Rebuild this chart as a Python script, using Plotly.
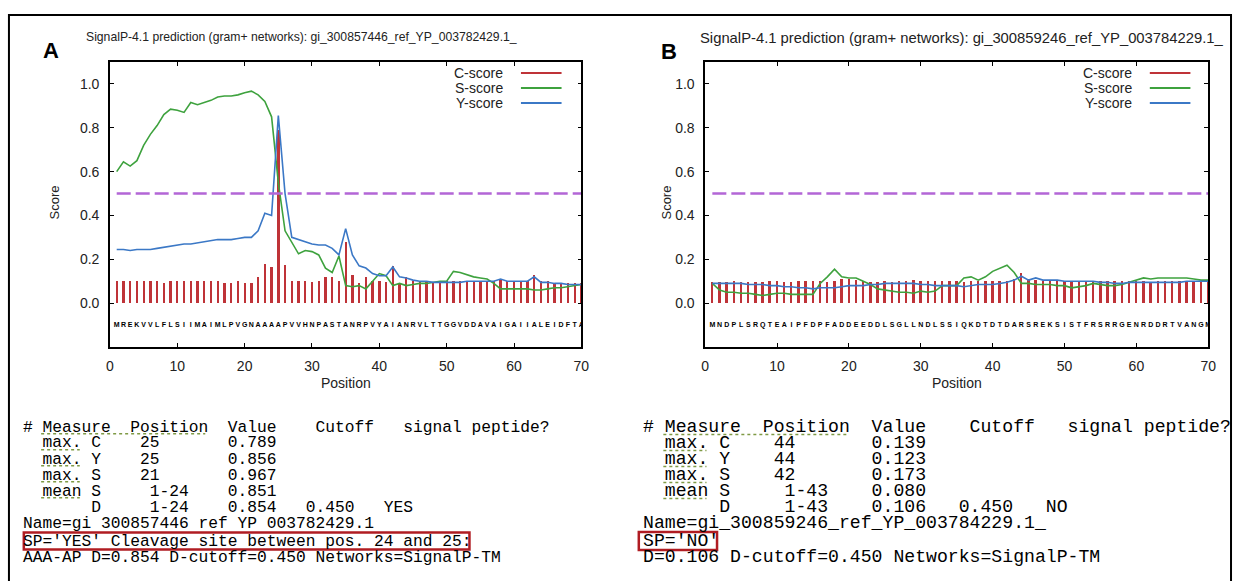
import plotly.graph_objects as go

W, H = 1241, 581

# ---------------- data ----------------
positions = list(range(1, 71))
cutoff = 0.5

seq_a = "MREKVVLFLSIIMAIMLPVGNAAAAPVVHNPASTANRPVYAIANRVLTTGGVDDAVAIGAIIALEIDFTAV"
seq_b = "MNDPLSRQTEAIPFDPFADDEEDDLSGLLNDLSSIQKDTDTDARSREKSISTFRSRRGENRDDRTVANGM"

c_score_a = [0.10, 0.10, 0.10, 0.10, 0.10, 0.10, 0.10, 0.09, 0.10, 0.10,
             0.10, 0.10, 0.10, 0.10, 0.10, 0.10, 0.09, 0.09, 0.10, 0.09,
             0.09, 0.12, 0.18, 0.165, 0.789, 0.175, 0.10, 0.10, 0.10, 0.095,
             0.10, 0.12, 0.12, 0.10, 0.28, 0.13, 0.09, 0.12, 0.10, 0.10,
             0.095, 0.17, 0.09, 0.12, 0.10, 0.10, 0.10, 0.09, 0.09, 0.10,
             0.10, 0.10, 0.10, 0.10, 0.10, 0.10, 0.10, 0.11, 0.10, 0.10,
             0.10, 0.10, 0.13, 0.10, 0.10, 0.09, 0.09, 0.09, 0.09, 0.09]
s_score_a = [0.60, 0.645, 0.625, 0.65, 0.72, 0.77, 0.81, 0.86, 0.885, 0.88,
             0.87, 0.915, 0.905, 0.915, 0.925, 0.94, 0.945, 0.945, 0.95, 0.96,
             0.967, 0.95, 0.92, 0.85, 0.55, 0.33, 0.28, 0.225, 0.24, 0.235,
             0.22, 0.16, 0.14, 0.215, 0.08, 0.075, 0.08, 0.065, 0.10, 0.135,
             0.125, 0.08, 0.09, 0.08, 0.085, 0.09, 0.09, 0.095, 0.10, 0.10,
             0.145, 0.14, 0.13, 0.12, 0.115, 0.11, 0.09, 0.065, 0.065, 0.065,
             0.065, 0.065, 0.06, 0.06, 0.065, 0.07, 0.07, 0.075, 0.08, 0.085]
y_score_a = [0.245, 0.245, 0.24, 0.245, 0.245, 0.245, 0.25, 0.255, 0.26, 0.265,
             0.27, 0.27, 0.275, 0.28, 0.285, 0.29, 0.29, 0.29, 0.295, 0.30,
             0.30, 0.33, 0.41, 0.40, 0.856, 0.50, 0.30, 0.29, 0.28, 0.27,
             0.265, 0.265, 0.25, 0.22, 0.34, 0.22, 0.17, 0.16, 0.135, 0.125,
             0.125, 0.165, 0.12, 0.115, 0.105, 0.10, 0.10, 0.095, 0.095, 0.095,
             0.095, 0.095, 0.10, 0.10, 0.10, 0.10, 0.10, 0.11, 0.10, 0.10,
             0.10, 0.10, 0.12, 0.095, 0.095, 0.09, 0.09, 0.085, 0.085, 0.085]

c_score_b = [0.095, 0.095, 0.095, 0.10, 0.095, 0.095, 0.095, 0.095, 0.10, 0.10,
             0.095, 0.095, 0.10, 0.10, 0.10, 0.10, 0.095, 0.10, 0.11, 0.11,
             0.105, 0.10, 0.095, 0.095, 0.10, 0.095, 0.10, 0.10, 0.105, 0.10,
             0.10, 0.10, 0.10, 0.10, 0.10, 0.095, 0.10, 0.10, 0.10, 0.10,
             0.10, 0.10, 0.11, 0.139, 0.11, 0.105, 0.10, 0.10, 0.10, 0.10,
             0.10, 0.10, 0.10, 0.10, 0.10, 0.10, 0.10, 0.10, 0.10, 0.10,
             0.10, 0.095, 0.10, 0.10, 0.10, 0.10, 0.10, 0.10, 0.10, 0.10]
s_score_b = [0.09, 0.06, 0.05, 0.05, 0.045, 0.045, 0.04, 0.035, 0.04, 0.045,
             0.045, 0.04, 0.04, 0.04, 0.04, 0.09, 0.12, 0.155, 0.12, 0.115,
             0.115, 0.10, 0.085, 0.065, 0.06, 0.055, 0.05, 0.05, 0.045, 0.055,
             0.05, 0.055, 0.08, 0.08, 0.08, 0.115, 0.12, 0.105, 0.12, 0.145,
             0.16, 0.173, 0.14, 0.09, 0.09, 0.085, 0.085, 0.085, 0.08, 0.08,
             0.07, 0.075, 0.08, 0.09, 0.085, 0.08, 0.08, 0.085, 0.095, 0.105,
             0.115, 0.11, 0.115, 0.115, 0.115, 0.115, 0.115, 0.11, 0.105, 0.105]
y_score_b = [0.09, 0.09, 0.09, 0.09, 0.09, 0.085, 0.085, 0.085, 0.08, 0.08,
             0.075, 0.075, 0.07, 0.07, 0.065, 0.07, 0.07, 0.07, 0.075, 0.08,
             0.08, 0.08, 0.085, 0.085, 0.09, 0.09, 0.09, 0.09, 0.09, 0.085,
             0.085, 0.08, 0.08, 0.08, 0.08, 0.075, 0.08, 0.085, 0.085, 0.085,
             0.09, 0.095, 0.105, 0.123, 0.105, 0.115, 0.105, 0.105, 0.105, 0.10,
             0.10, 0.10, 0.10, 0.10, 0.095, 0.095, 0.09, 0.09, 0.095, 0.095,
             0.095, 0.095, 0.095, 0.095, 0.095, 0.095, 0.10, 0.10, 0.10, 0.10]

x_ticks = [0, 10, 20, 30, 40, 50, 60, 70]
y_ticks = [0.0, 0.2, 0.4, 0.6, 0.8, 1.0]
y_ticklabels = ["0.0", "0.2", "0.4", "0.6", "0.8", "1.0"]

title_a = "SignalP-4.1 prediction (gram+ networks): gi_300857446_ref_YP_003782429.1_"
title_b = "SignalP-4.1 prediction (gram+ networks): gi_300859246_ref_YP_003784229.1_"
legend_names = ["C-score", "S-score", "Y-score"]

text_a = [
    "# Measure  Position  Value    Cutoff   signal peptide?",
    "  max. C    25       0.789",
    "  max. Y    25       0.856",
    "  max. S    21       0.967",
    "  mean S     1-24    0.851",
    "       D     1-24    0.854   0.450   YES",
    "Name=gi 300857446 ref YP 003782429.1",
    "SP='YES' Cleavage site between pos. 24 and 25:",
    "AAA-AP D=0.854 D-cutoff=0.450 Networks=SignalP-TM",
]
text_b = [
    "# Measure  Position  Value    Cutoff   signal peptide?",
    "  max. C    44       0.139",
    "  max. Y    44       0.123",
    "  max. S    42       0.173",
    "  mean S     1-43    0.080",
    "       D     1-43    0.106   0.450   NO",
    "Name=gi_300859246_ref_YP_003784229.1_",
    "SP='NO'",
    "D=0.106 D-cutoff=0.450 Networks=SignalP-TM",
]

# ---------------- styling ----------------
RED = "#bf3338"
GREEN = "#3ea23e"
BLUE = "#3b78c6"
PURPLE = "#b366d6"
SANS = "Liberation Sans, Arial, sans-serif"
MONO = "Liberation Mono, Courier New, monospace"


def px(x):
    return x / W


def py(y):
    return 1 - y / H


fig = go.Figure()

panels = [
    dict(ax="", x0=107, x1=583, c=c_score_a, s=s_score_a, yv=y_score_a, seq=seq_a),
    dict(ax="2", x0=708, x1=1216, c=c_score_b, s=s_score_b, yv=y_score_b, seq=seq_b),
]
Y_TOP, Y_BOT = 62, 347

for p in panels:
    xa = "x" + p["ax"]
    ya = "y" + p["ax"]
    fig.add_trace(go.Bar(x=positions, y=p["c"], width=0.34, marker=dict(color=RED, line=dict(width=0)),
                         xaxis=xa, yaxis=ya, showlegend=False))
    fig.add_trace(go.Scatter(x=positions, y=p["s"], mode="lines", line=dict(color=GREEN, width=1.6),
                             xaxis=xa, yaxis=ya, showlegend=False))
    fig.add_trace(go.Scatter(x=positions, y=p["yv"], mode="lines", line=dict(color=BLUE, width=1.6),
                             xaxis=xa, yaxis=ya, showlegend=False))
    fig.add_trace(go.Scatter(x=[positions[0], positions[-1]], y=[cutoff, cutoff], mode="lines",
                             line=dict(color=PURPLE, width=2.5, dash="14px,5px"),
                             xaxis=xa, yaxis=ya, showlegend=False))
    seq_pos = list(range(1, len(p["seq"]) + 1))
    fig.add_trace(go.Scatter(x=seq_pos, y=[-0.1] * len(seq_pos), mode="text", text=list(p["seq"]),
                             textfont=dict(family=SANS, size=7, color="black", weight="bold"),
                             xaxis=xa, yaxis=ya, showlegend=False, cliponaxis=True))

axis_common = dict(showline=True, linecolor="black", linewidth=1.5, mirror="allticks",
                   ticks="inside", ticklen=4, tickcolor="black", showgrid=False, zeroline=False,
                   tickfont=dict(family=SANS, size=14, color="#222"))

layout = dict(width=W, height=H, margin=dict(l=0, r=0, t=0, b=0),
              paper_bgcolor="white", plot_bgcolor="white", bargap=0, showlegend=False)
for p in panels:
    layout["xaxis" + p["ax"]] = dict(domain=[px(p["x0"]), px(p["x1"])], range=[0, 70],
                                     tickvals=x_ticks, anchor="y" + p["ax"],
                                     ticklabelstandoff=5, **axis_common)
    layout["yaxis" + p["ax"]] = dict(domain=[py(Y_BOT), py(Y_TOP)], range=[-0.2, 1.1],
                                     tickvals=y_ticks, ticktext=y_ticklabels, anchor="x" + p["ax"],
                                     ticklabelstandoff=6, **axis_common)
fig.update_layout(**layout)

ann = []
shapes = []


def add_text(x, y, text, size, family=SANS, xanchor="center", color="#222", angle=0, bold=False):
    ann.append(dict(x=px(x), y=py(y), xref="paper", yref="paper", text=("<b>%s</b>" % text) if bold else text,
                    showarrow=False, xanchor=xanchor, yanchor="middle", textangle=angle, borderpad=0,
                    font=dict(family=family, size=size, color=color)))


# panel titles and labels
add_text(300, 37, title_a, 12.2)
add_text(967, 38, title_b, 14.8)
add_text(47, 50, "A", 22, family="Liberation Sans, Arial", color="black", bold=True)
add_text(671, 51, "B", 22, family="Liberation Sans, Arial", color="black", bold=True)
for p, sx in zip(panels, [50, 668]):
    add_text(sx, 203, "Score", 13, angle=-90)
    add_text((p["x0"] + p["x1"]) / 2, 383, "Position", 14)

# legends
legend_colors = [RED, GREEN, BLUE]
for text_end, l0, l1 in [(505, 522, 563), (1140, 1157, 1198)]:
    for i, (name, col) in enumerate(zip(legend_names, legend_colors)):
        yy = 73 + 15 * i
        add_text(text_end, yy, name, 14, xanchor="right")
        shapes.append(dict(type="line", xref="paper", yref="paper", x0=px(l0), x1=px(l1),
                           y0=py(yy), y1=py(yy), line=dict(color=col, width=2)))

# text blocks
rows = [427, 443, 459, 475, 491, 507, 523, 541, 557]
SQUIG = "#7f9a45"


def block(lines, x, size, squig_rows):
    cw = size * 0.6
    for yy, line in zip(rows, lines):
        add_text(x, yy, line.replace(" ", "\u00a0"), size, family=MONO, xanchor="left", color="black")
    for r, c0, c1 in squig_rows:
        yy = rows[r] + size * 0.42
        shapes.append(dict(type="line", xref="paper", yref="paper", x0=px(x + c0 * cw), x1=px(x + c1 * cw),
                           y0=py(yy), y1=py(yy), line=dict(color=SQUIG, width=1.5, dash="dot")))


squiggles = [(0, 2, 19), (1, 2, 6), (2, 2, 6), (3, 2, 6), (4, 2, 6)]
block(text_a, 18, 16.25, squiggles)
block(text_b, 644, 18.15, squiggles)

# red highlight boxes
sp_row = rows[7]
shapes.append(dict(type="rect", xref="paper", yref="paper", x0=px(20), x1=px(470),
                   y0=py(sp_row + 8.5), y1=py(sp_row - 8.5), line=dict(color="#b01c22", width=2.5)))
shapes.append(dict(type="rect", xref="paper", yref="paper", x0=px(641), x1=px(720),
                   y0=py(sp_row + 9), y1=py(sp_row - 9), line=dict(color="#b01c22", width=2.5)))

# outer frame
shapes.append(dict(type="rect", xref="paper", yref="paper", x0=px(5), x1=px(1239),
                   y0=py(590), y1=py(15), line=dict(color="black", width=2)))

fig.update_layout(annotations=ann, shapes=shapes)
fig.write_html("out.html", config={"displayModeBar": False},
               post_script="document.body.style.margin='0';")
